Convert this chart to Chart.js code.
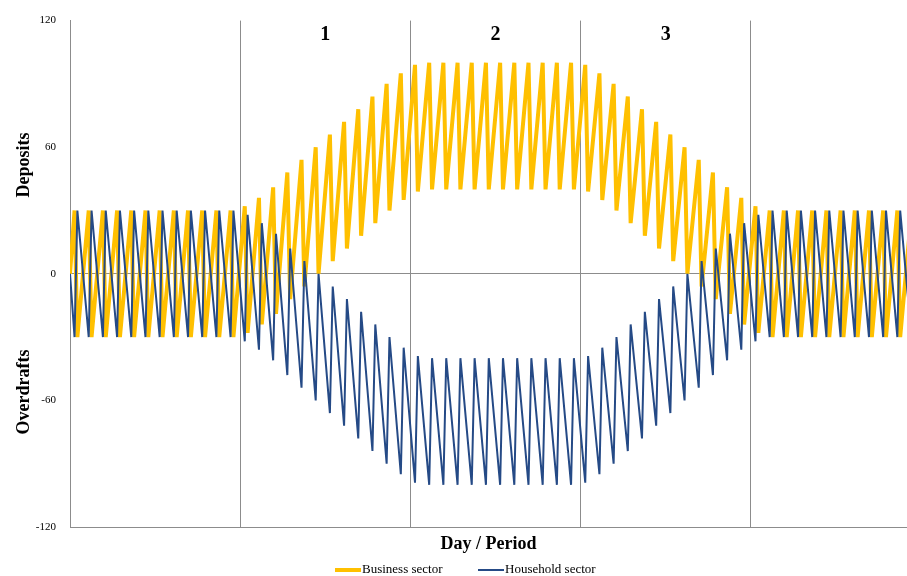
<!DOCTYPE html>
<html>
<head>
<meta charset="utf-8">
<script src="https://cdn.jsdelivr.net/npm/chart.js@4/dist/chart.umd.min.js"></script>
<style>
  html, body { margin: 0; padding: 0; background: #fff; }
  #wrap { width: 907px; height: 576px; }
</style>
</head>
<body>
<div id="wrap"><canvas id="chart"></canvas></div>
<script>
// one value per cycle (12 cycles per period section, last section runs off the edge)
const businessPeaks = [
  30, 30, 30, 30, 30, 30, 30, 30, 30, 30, 30, 30,
  32, 36, 41, 48, 54, 60, 66, 72, 78, 84, 90, 95,
  99, 100, 100, 100, 100, 100, 100, 100, 100, 100, 100, 100,
  99, 95, 90, 84, 78, 72, 66, 60, 54, 48, 41, 36,
  32, 30, 30, 30, 30, 30, 30, 30, 30, 30, 30, 30
];
const businessTroughs = [
  -30, -30, -30, -30, -30, -30, -30, -30, -30, -30, -30, -30,
  -28, -24, -19, -12, -6, 0, 6, 12, 18, 24, 30, 35,
  39, 40, 40, 40, 40, 40, 40, 40, 40, 40, 40, 40,
  39, 35, 30, 24, 18, 12, 6, 0, -6, -12, -19, -24,
  -28, -30, -30, -30, -30, -30, -30, -30, -30, -30, -30, -30
];
const householdLows = [
  -30, -30, -30, -30, -30, -30, -30, -30, -30, -30, -30, -30,
  -32, -36, -41, -48, -54, -60, -66, -72, -78, -84, -90, -95,
  -99, -100, -100, -100, -100, -100, -100, -100, -100, -100, -100, -100,
  -99, -95, -90, -84, -78, -72, -66, -60, -54, -48, -41, -36,
  -32, -30, -30, -30, -30, -30, -30, -30, -30, -30, -30, -30
];
const householdHighs = [
  30, 30, 30, 30, 30, 30, 30, 30, 30, 30, 30, 30,
  28, 24, 19, 12, 6, 0, -6, -12, -18, -24, -30, -35,
  -39, -40, -40, -40, -40, -40, -40, -40, -40, -40, -40, -40,
  -39, -35, -30, -24, -18, -12, -6, 0, 6, 12, 19, 24,
  28, 30, 30, 30, 30, 30, 30, 30, 30, 30, 30, 30
];
const sectionLabels = ['1', '2', '3'];
const yTicks = [-120, -60, 0, 60, 120];

// slow move to the extreme, quick return after it
function zigzag(firsts, seconds) {
  const pts = [{ x: 0, y: 0 }];
  firsts.forEach((v, k) => {
    pts.push({ x: k + 0.32, y: v });
    pts.push({ x: k + 0.52, y: seconds[k] });
  });
  return pts;
}

const serif = '"Liberation Serif", "DejaVu Serif", serif';

const overlay = {
  id: 'overlay',
  afterDraw(chart) {
    const { ctx, chartArea, scales } = chart;
    ctx.save();
    ctx.fillStyle = '#000';
    ctx.font = 'bold 20px ' + serif;
    ctx.textAlign = 'center';
    ctx.textBaseline = 'middle';
    sectionLabels.forEach((t, i) => {
      ctx.fillText(t, scales.x.getPixelForValue(12 * (i + 1) + 6), 35);
    });
    ctx.font = 'bold 18px ' + serif;
    ctx.fillText('Day / Period', (chartArea.left + chartArea.right) / 2, 544);
    const drawV = (t, y) => {
      ctx.save();
      ctx.translate(24, y);
      ctx.rotate(-Math.PI / 2);
      ctx.fillText(t, 0, 0);
      ctx.restore();
    };
    drawV('Deposits', 165);
    drawV('Overdrafts', 392);

    // legend
    ctx.font = '13px ' + serif;
    ctx.textAlign = 'left';
    const items = [
      { label: 'Business sector', color: '#FFC000', w: 4, x: 335 },
      { label: 'Household sector', color: '#254A86', w: 2, x: 478 }
    ];
    items.forEach(it => {
      ctx.strokeStyle = it.color;
      ctx.lineWidth = it.w;
      ctx.beginPath();
      ctx.moveTo(it.x, 570);
      ctx.lineTo(it.x + 26, 570);
      ctx.stroke();
      ctx.fillText(it.label, it.x + 27, 570);
    });
    ctx.restore();
  }
};

new Chart(document.getElementById('chart'), {
  type: 'line',
  data: {
    datasets: [
      {
        label: 'Household sector',
        data: zigzag(householdLows, householdHighs),
        borderColor: '#254A86',
        borderWidth: 2,
        pointRadius: 0,
        tension: 0,
        order: 1
      },
      {
        label: 'Business sector',
        data: zigzag(businessPeaks, businessTroughs),
        borderColor: '#FFC000',
        borderWidth: 4,
        pointRadius: 0,
        tension: 0,
        order: 2
      }
    ]
  },
  options: {
    responsive: true,
    maintainAspectRatio: false,
    animation: false,
    layout: { padding: { top: 20, right: 0, left: 0, bottom: 0 } },
    plugins: {
      legend: { display: false },
      tooltip: { enabled: false }
    },
    scales: {
      x: {
        type: 'linear',
        min: 0,
        max: 59,
        ticks: { display: false, stepSize: 12 },
        grid: { color: '#8c8c8c', lineWidth: 1, drawTicks: false },
        border: { color: '#8c8c8c' },
        afterFit: (s) => { s.height = 49; }
      },
      y: {
        min: -120,
        max: 120,
        afterBuildTicks: (s) => { s.ticks = yTicks.map(v => ({ value: v })); },
        ticks: { color: '#000', font: { family: serif, size: 11 }, padding: 14 },
        grid: {
          color: (c) => c.tick && c.tick.value === 0 ? '#8c8c8c' : 'rgba(0,0,0,0)',
          drawTicks: false
        },
        border: { color: '#8c8c8c' },
        afterFit: (s) => { s.width = 70; }
      }
    }
  },
  plugins: [overlay]
});
</script>
</body>
</html>
